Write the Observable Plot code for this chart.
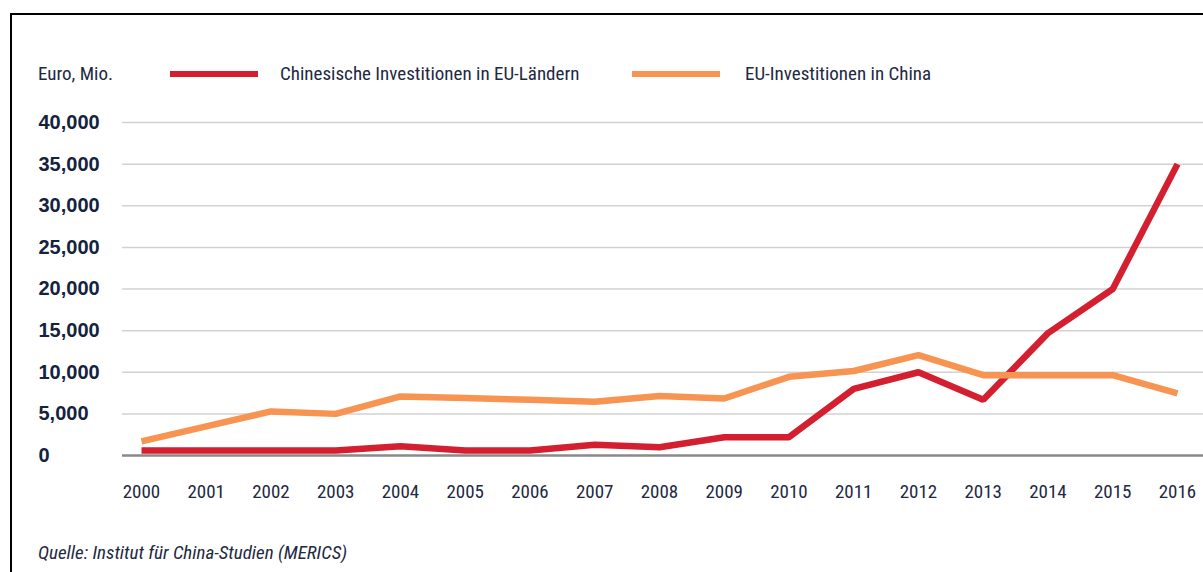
<!DOCTYPE html>
<html>
<head>
<meta charset="utf-8">
<script src="https://cdn.jsdelivr.net/npm/d3@7"></script>
<script src="https://cdn.jsdelivr.net/npm/@observablehq/plot@0.6"></script>
<style>
  html, body { margin: 0; padding: 0; background: #fff; }
  #page { position: relative; width: 1203px; height: 572px; overflow: hidden; background: #fff;
    font-family: 'Liberation Sans Narrow', 'Roboto Condensed', 'DejaVu Sans Condensed', 'Liberation Sans', sans-serif; color: #1e2942; }
  #frame { position: absolute; left: 10px; top: 13px; width: 1400px; height: 800px;
    border-left: 2px solid #000; border-top: 2px solid #000; }
  .lab { position: absolute; font-size: 19px; line-height: 20px; white-space: nowrap; }
  .sw { position: absolute; height: 6px; width: 88px; }
  #chart { position: absolute; left: 0; top: 100px; }
  #caption { position: absolute; left: 38px; top: 543px; font-size: 19px; line-height: 20px; font-style: italic; white-space: nowrap; }
</style>
</head>
<body>
<div id="page">
  <div id="frame"></div>
  <div id="legend"></div>
  <div id="chart"></div>
  <div id="caption">Quelle: Institut für China-Studien (MERICS)</div>
</div>
<script>
const years = [2000, 2001, 2002, 2003, 2004, 2005, 2006, 2007, 2008, 2009, 2010, 2011, 2012, 2013, 2014, 2015, 2016];
const chinaInEU = [600, 600, 600, 600, 1100, 600, 600, 1300, 1000, 2200, 2200, 8000, 10000, 6700, 14700, 20000, 35000];
const euInChina = [1700, 3500, 5300, 5000, 7100, 6900, 6700, 6450, 7150, 6850, 9450, 10150, 12050, 9650, 9650, 9650, 7450];
const yTicks = [0, 5000, 10000, 15000, 20000, 25000, 30000, 35000, 40000];
const seriesNames = ["Chinesische Investitionen in EU-Ländern", "EU-Investitionen in China"];
const unitLabel = "Euro, Mio.";

const colors = ["#d31f30", "#f79451"];
const FONT = "'Liberation Sans Narrow', 'Roboto Condensed', 'DejaVu Sans Condensed', 'Liberation Sans', sans-serif";

const data = [];
years.forEach((yr, i) => {
  data.push({year: yr, value: chinaInEU[i], series: seriesNames[0]});
});
years.forEach((yr, i) => {
  data.push({year: yr, value: euInChina[i], series: seriesNames[1]});
});

// Legend
const legend = document.getElementById("legend");
const unit = document.createElement("span");
unit.className = "lab"; unit.style.left = "38px"; unit.style.top = "64px"; unit.textContent = unitLabel;
legend.appendChild(unit);
const swLeft = [170, 632], txtLeft = [280, 745];
seriesNames.forEach((name, i) => {
  const sw = document.createElement("div");
  sw.className = "sw"; sw.style.left = swLeft[i] + "px"; sw.style.top = "71px"; sw.style.background = colors[i];
  legend.appendChild(sw);
  const t = document.createElement("span");
  t.className = "lab"; t.style.left = txtLeft[i] + "px"; t.style.top = "64px"; t.textContent = name;
  legend.appendChild(t);
});

const chart = Plot.plot({
  width: 1203,
  height: 420,
  marginTop: 22,
  marginBottom: 65,
  marginLeft: 122,
  marginRight: 0,
  style: {fontFamily: FONT, background: "transparent", overflow: "visible"},
  x: {domain: [2000, 2016], insetLeft: 19, insetRight: 26},
  y: {domain: [0, 40000]},
  color: {domain: seriesNames, range: colors},
  marks: [
    Plot.ruleY(yTicks.filter(d => d > 0), {stroke: "#d2d2d2", strokeWidth: 1.5}),
    Plot.ruleY([0], {stroke: "#8a8a8a", strokeWidth: 2.5}),
    Plot.line(data, {x: "year", y: "value", z: "series", stroke: "series", strokeWidth: 6.5,
      strokeLinecap: "butt", strokeLinejoin: "miter"}),
    Plot.axisY({ticks: yTicks, tickSize: 0, tickPadding: 84, textAnchor: "start",
      tickFormat: d3.format(","), fontSize: 20, fontWeight: "bold", fill: "#14223d",
      fontFamily: "'Liberation Sans', Arial, sans-serif", label: null}),
    Plot.axisX({ticks: years, tickSize: 0, tickPadding: 29, tickFormat: d => String(d),
      fontSize: 19, fill: "#1e2942", label: null})
  ]
});
document.getElementById("chart").appendChild(chart);
</script>
</body>
</html>
